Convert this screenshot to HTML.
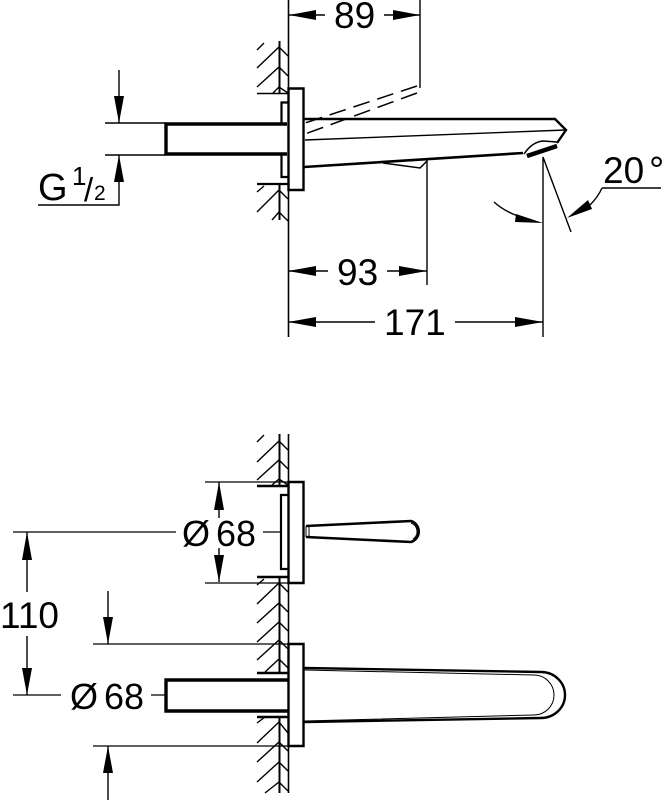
<!DOCTYPE html>
<html><head><meta charset="utf-8">
<style>html,body{margin:0;padding:0;background:#fff}svg{display:block}
text{font-family:"Liberation Sans",sans-serif;fill:#000}</style></head>
<body>
<svg width="664" height="800" viewBox="0 0 664 800" xmlns="http://www.w3.org/2000/svg">
<rect width="664" height="800" fill="#fff"/>

<g fill="none" stroke="#000">
<!-- TOP VIEW: wall -->
<path d="M279.5 41V93M279.5 184V220" stroke-width="2"/>
<path d="M288.5 0V88M288.5 190V337" stroke-width="1.6"/>
<path d="M264 43L257 50M257 68L279 47L288 56M257 87L279 67L288 76M273 93L279 87L288 93M257 93.5H288" stroke-width="1.4"/>
<path d="M257 184H288" stroke-width="2.2"/>
<path d="M257 192L264 186M257 212L279 190L288 199M272 220L279 212L288 221" stroke-width="1.4"/>

<!-- plate -->
<path d="M288.5 88.5H303.5V190H288.5Z" stroke-width="2.4" fill="#fff"/>
<path d="M281.5 124V102.5H288M281.5 154V177H288" stroke-width="2.2"/>
<!-- pipe -->
<path d="M287 124H166V154H287" stroke-width="3.4"/>
<path d="M105 123H166M105 155H166" stroke-width="1.4"/>
<!-- spout -->
<path d="M304 119H555L566 130L557 143" stroke-width="2.4"/>
<path d="M305 140L566 130" stroke-width="1.4"/>
<path d="M304 167L523 153" stroke-width="2.6"/>
<path d="M383 163L420 168L427 161" stroke-width="1.5"/>
<path d="M524 154Q532 142 543 141L557 142" stroke-width="1.5"/>
<path d="M527 156L557 146" stroke-width="4.4"/>
<!-- dashed -->
<path d="M417 86L305 123M417 93L305 134" stroke-width="1.5" stroke-dasharray="17 8"/>
<path d="M420 0V88M427 160V285M543 157V337M543 157L571 232" stroke-width="1.4"/>
<!-- dims -->
<path d="M289 15H325M384 15H420M288 271H328M387 271H427M288 322H375M455 322H543" stroke-width="1.4"/>
<path d="M119 70V123M119 155V205H38M602 188H661M602 188Q598 197 590 205M494 202Q504 211 518 216" stroke-width="1.4"/>

<!-- BOTTOM: wall -->
<path d="M279.5 434V486M279.5 577V673M279.5 717V793" stroke-width="2"/>
<path d="M288.5 434V482M288.5 583V644M288.5 746V793" stroke-width="1.6"/>
<path d="M264 435L257 442M257 462L279 441L288 450M257 480L279 460L288 469M272 485L279 479L288 485" stroke-width="1.4"/>
<path d="M264 579L257 585M257 604L279 583L288 592M257 623L279 603L288 612M257 642L279 622L288 631M257 660L279 640L288 649M265 672L279 659L288 668" stroke-width="1.4"/>
<path d="M265 717L257 723M257 743L279 722L288 733M257 762L279 742L288 751M257 782L279 762L288 771M265 793L279 782L288 791" stroke-width="1.4"/>
<path d="M257 486H288M257 577H288M257 673H288M257 717H288" stroke-width="2.6"/>
<path d="M205 482H288M205 583H288" stroke-width="1.3"/>

<!-- upper plate + handle -->
<path d="M288.5 482H303.5V583H288.5Z" stroke-width="2.4" fill="#fff"/>
<path d="M288 495H281V569H288" stroke-width="2.2"/>
<path d="M306 526L411 521A11 11 0 0 1 411 542L306 537" stroke-width="2.6"/>
<path d="M306 526V537M309 526V537" stroke-width="1"/>
<path d="M411 523A9 9 0 0 1 413 539" stroke-width="1"/>
<path d="M263 532H281" stroke-width="1.3"/>

<!-- lower plate + spout -->
<path d="M288 680H166V711H288" stroke-width="3.4"/>
<path d="M288.5 644H303.5V746H288.5Z" stroke-width="2.4" fill="#fff"/>
<path d="M304 668L541 672A24 23 0 0 1 541 718L304 722" stroke-width="2.4"/>
<path d="M304 670L534 675A20 20 0 0 1 534 715L304 721" stroke-width="1"/>

<!-- bottom dims -->
<path d="M13 532H176M93 644H288M93 746H288M13 695H61M151 695H166" stroke-width="1.3"/>
<path d="M27 532V592M27 636V695M108 591V644M108 746V800M219 482V518M219 548V582" stroke-width="1.4"/>
</g>

<!-- arrowheads -->
<g fill="#000">
<path d="M289 15L316 10V20ZM420 15L393 10V20Z"/>
<path d="M288 271L316 266V276ZM427 271L399 266V276Z"/>
<path d="M288 322L316 317V327ZM543 322L515 317V327Z"/>
<path d="M119 123L114 96H124ZM119 155L114 182H124Z"/>
<path d="M567 218L588 200L592 209Z"/>
<path d="M543 223L516 214L515 222Z"/>
<path d="M219 482L214 510H224ZM219 582L214 555H224Z"/>
<path d="M27 532L22 560H32ZM27 695L22 668H32Z"/>
<path d="M108 644L103 617H113ZM108 746L103 773H113Z"/>
</g>

<!-- labels -->
<text x="334" y="28" font-size="37">89</text>
<text x="337" y="285" font-size="37">93</text>
<text x="384" y="335" font-size="37">171</text>
<text x="603" y="183" font-size="37">20</text>
<text x="649" y="183" font-size="38">°</text>
<text x="38" y="200" font-size="38">G</text>
<text x="72" y="185" font-size="26">1</text>
<text x="84" y="201" font-size="33">/</text>
<text x="94" y="200" font-size="21">2</text>
<text x="0" y="628" font-size="37">110</text>
<text x="182" y="546" font-size="36">Ø</text>
<text x="216" y="546" font-size="36">68</text>
<text x="70" y="709" font-size="36">Ø</text>
<text x="104" y="709" font-size="36">68</text>
</svg>
</body></html>
